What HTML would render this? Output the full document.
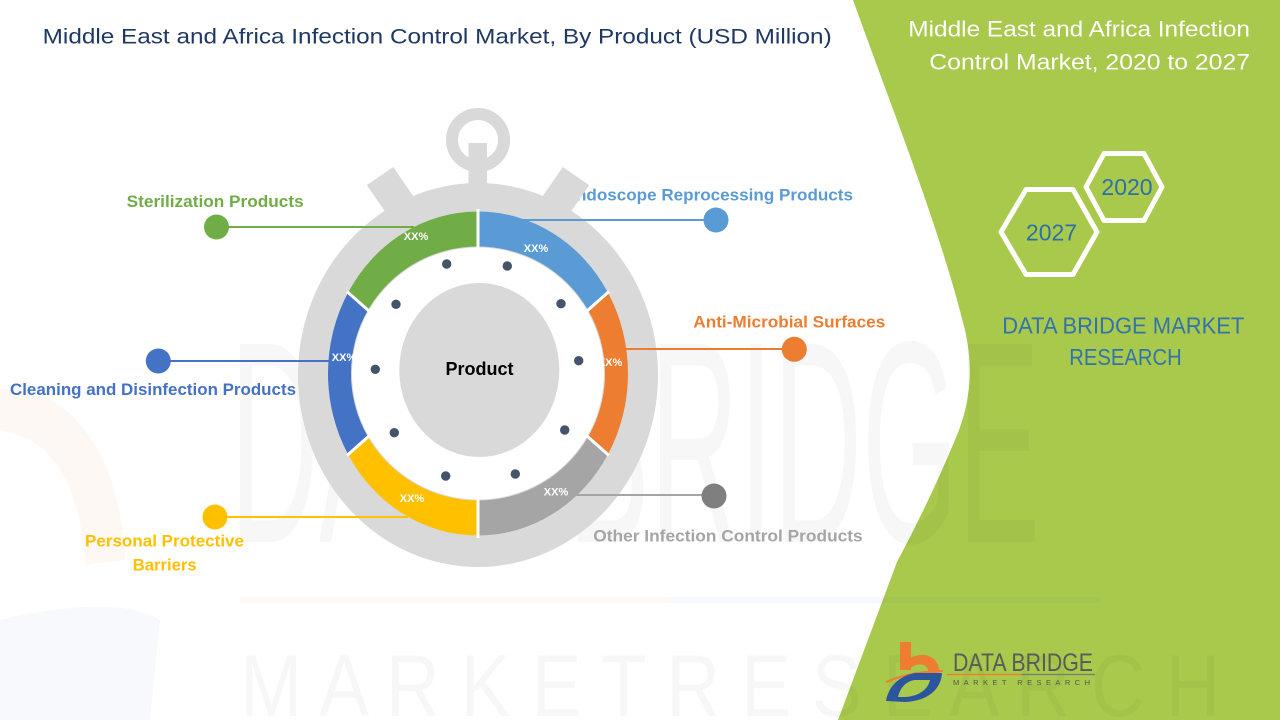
<!DOCTYPE html>
<html>
<head>
<meta charset="utf-8">
<style>
  html,body{margin:0;padding:0;background:#fff;}
  body{width:1280px;height:720px;overflow:hidden;}
  svg{display:block;overflow:hidden;}
  text{font-family:"Liberation Sans", Arial, sans-serif;}
</style>
</head>
<body>
<svg width="1280" height="720" viewBox="0 0 1280 720" xmlns="http://www.w3.org/2000/svg">
  <defs>
    <clipPath id="frame"><rect x="0" y="0" width="1280" height="720"/></clipPath>
  </defs>
  <g clip-path="url(#frame)">
  <rect x="0" y="0" width="1280" height="720" fill="#ffffff"/>

  <!-- faint watermark logo at left -->
  <path d="M -10 390 C 60 380, 120 440, 125 560 L 85 565 C 80 470, 40 430, -10 430 Z" fill="#ed7d31" opacity="0.05"/>
  <path d="M 0 620 C 60 605, 130 600, 160 620 L 150 720 L 0 720 Z" fill="#4472c4" opacity="0.04"/>

  <!-- green panel -->
  <path d="M 853 0 C 900 130, 940 230, 965 330 C 975 375, 968 410, 955 440 Q 930 500, 897 562 L 838 720 L 1280 720 L 1280 0 Z" fill="#a8c94c"/>

  <!-- faint watermark text -->
  <text x="230" y="542" font-size="288" textLength="810" lengthAdjust="spacingAndGlyphs" fill="#000" fill-opacity="0.03">DATA BRIDGE</text>
  <rect x="240" y="597" width="430" height="6" fill="#ed7d31" opacity="0.05"/>
  <rect x="670" y="597" width="430" height="6" fill="#4472c4" opacity="0.05"/>
  <text x="240" y="716" font-size="88" textLength="980" lengthAdjust="spacingAndGlyphs" fill="#000" fill-opacity="0.03">M A R K E T   R E S E A R C H</text>

  <!-- main title -->
  <text x="42.7" y="43.3" font-size="21" textLength="789" lengthAdjust="spacingAndGlyphs" fill="#1f3864">Middle East and Africa Infection Control Market, By Product (USD Million)</text>

  <!-- right titles -->
  <text x="908.3" y="36.7" font-size="22" textLength="341.7" lengthAdjust="spacingAndGlyphs" fill="#ffffff">Middle East and Africa Infection</text>
  <text x="929.3" y="69.3" font-size="22" textLength="320.7" lengthAdjust="spacingAndGlyphs" fill="#ffffff">Control Market, 2020 to 2027</text>

  <!-- hexagons -->
  <polygon points="1086,187 1104,153.5 1144,153.5 1162,187 1144,220.5 1104,220.5" fill="none" stroke="#ffffff" stroke-width="5" stroke-linejoin="round"/>
  <polygon points="1001,232 1026,189.5 1073,189.5 1097,232 1073,274.5 1026,274.5" fill="none" stroke="#ffffff" stroke-width="5" stroke-linejoin="round"/>
  <text x="1127" y="195" font-size="23" text-anchor="middle" fill="#2f6fa8">2020</text>
  <text x="1051.5" y="240.7" font-size="23" text-anchor="middle" fill="#2f6fa8">2027</text>

  <text x="1002.3" y="333.3" font-size="23" textLength="242" lengthAdjust="spacingAndGlyphs" fill="#3373ad">DATA BRIDGE MARKET</text>
  <text x="1069.3" y="365" font-size="23" textLength="112.4" lengthAdjust="spacingAndGlyphs" fill="#3373ad">RESEARCH</text>

  <!-- labels (behind stopwatch) -->
  <g font-weight="bold" font-size="17">
    <text x="126.7" y="207" textLength="177" lengthAdjust="spacingAndGlyphs" fill="#70ad47">Sterilization Products</text>
    <text x="10" y="395" textLength="286" lengthAdjust="spacingAndGlyphs" fill="#4472c4">Cleaning and Disinfection Products</text>
    <text x="564.6" y="200.7" textLength="288.4" lengthAdjust="spacingAndGlyphs" fill="#5b9bd5">Endoscope Reprocessing Products</text>
    <text x="693.3" y="327.3" textLength="192" lengthAdjust="spacingAndGlyphs" fill="#ed7d31">Anti-Microbial Surfaces</text>
    <text x="593.3" y="541.7" textLength="269.4" lengthAdjust="spacingAndGlyphs" fill="#a5a5a5">Other Infection Control Products</text>
    <text x="85" y="546.7" textLength="159" lengthAdjust="spacingAndGlyphs" fill="#ffc000">Personal Protective</text>
    <text x="132.7" y="570.7" textLength="64" lengthAdjust="spacingAndGlyphs" fill="#ffc000">Barriers</text>
  </g>

  <!-- stopwatch body -->
  <g fill="#d9d9d9">
    <circle cx="478" cy="140" r="26" fill="none" stroke="#d9d9d9" stroke-width="12"/>
    <rect x="468.5" y="143" width="18.5" height="50"/>
    <g transform="translate(380,176) rotate(-34.5)"><rect x="-16" y="0" width="32" height="55"/></g>
    <g transform="translate(576,176) rotate(34.5)"><rect x="-16" y="0" width="32" height="55"/></g>
    <ellipse cx="478" cy="375" rx="180" ry="192"/>
  </g>

  <!-- connector lines -->
  <g stroke-width="2">
    <line x1="216" y1="227" x2="414" y2="227" stroke="#70ad47"/>
    <line x1="158" y1="361" x2="331" y2="361" stroke="#4472c4"/>
    <line x1="517" y1="220" x2="716" y2="220" stroke="#5b9bd5"/>
    <line x1="623" y1="349" x2="794" y2="349" stroke="#ed7d31"/>
    <line x1="576" y1="495" x2="714" y2="495" stroke="#a5a5a5"/>
    <line x1="215" y1="517" x2="408" y2="517" stroke="#ffc000"/>
  </g>
  <circle cx="216.5" cy="227" r="12.5" fill="#70ad47"/>
  <circle cx="158.3" cy="361" r="12.5" fill="#4472c4"/>
  <circle cx="716" cy="220" r="12.5" fill="#5b9bd5"/>
  <circle cx="794.3" cy="349.3" r="12.5" fill="#ed7d31"/>
  <circle cx="714" cy="496" r="12.5" fill="#7f7f7f"/>
  <circle cx="215" cy="517" r="12.5" fill="#ffc000"/>

  <!-- ring segments -->
  <path d="M 348.1 292.5 A 150 162 0 0 1 478 211.5 L 478 246.5 A 127 127 0 0 0 368 310 Z" fill="#70ad47"/>
  <path d="M 478 211.5 A 150 162 0 0 1 607.9 292.5 L 588 310 A 127 127 0 0 0 478 246.5 Z" fill="#5b9bd5"/>
  <path d="M 607.9 292.5 A 150 162 0 0 1 607.9 454.5 L 588 437 A 127 127 0 0 0 588 310 Z" fill="#ed7d31"/>
  <path d="M 607.9 454.5 A 150 162 0 0 1 478 535.5 L 478 500.5 A 127 127 0 0 0 588 437 Z" fill="#a5a5a5"/>
  <path d="M 478 535.5 A 150 162 0 0 1 348.1 454.5 L 368 437 A 127 127 0 0 0 478 500.5 Z" fill="#ffc000"/>
  <path d="M 348.1 454.5 A 150 162 0 0 1 348.1 292.5 L 368 310 A 127 127 0 0 0 368 437 Z" fill="#4472c4"/>
  <g stroke="#ffffff" stroke-width="3">
    <line x1="478" y1="209" x2="478" y2="248"/>
    <line x1="609" y1="291.5" x2="587" y2="311"/>
    <line x1="609" y1="455.5" x2="587" y2="436"/>
    <line x1="478" y1="538" x2="478" y2="499"/>
    <line x1="347" y1="455.5" x2="369" y2="436"/>
    <line x1="347" y1="291.5" x2="369" y2="311"/>
  </g>
  <circle cx="478" cy="373.5" r="126" fill="#ffffff"/>

  <!-- percentages -->
  <g font-weight="bold" font-size="11" fill="#ffffff" text-anchor="middle">
    <text x="416" y="240">XX%</text>
    <text x="536" y="252">XX%</text>
    <text x="610" y="366">XX%</text>
    <text x="344" y="361">XX%</text>
    <text x="556" y="495.5">XX%</text>
    <text x="412" y="502">XX%</text>
  </g>

  <!-- dots -->
  <g fill="#44546a">
    <circle cx="446.7" cy="264" r="4.7"/>
    <circle cx="507.3" cy="266" r="4.7"/>
    <circle cx="396" cy="304.3" r="4.7"/>
    <circle cx="561" cy="303.7" r="4.7"/>
    <circle cx="375.3" cy="369.3" r="4.7"/>
    <circle cx="578.7" cy="360.7" r="4.7"/>
    <circle cx="394.3" cy="432.7" r="4.7"/>
    <circle cx="564.7" cy="430" r="4.7"/>
    <circle cx="445.7" cy="476" r="4.7"/>
    <circle cx="515.3" cy="474" r="4.7"/>
  </g>

  <!-- center -->
  <ellipse cx="479.3" cy="370" rx="80" ry="87" fill="#d9d9d9"/>
  <text x="479.5" y="375" font-size="18" font-weight="bold" text-anchor="middle" fill="#000000">Product</text>

  <!-- bottom-right logo -->
  <rect x="900" y="642" width="11" height="28" fill="#ef7d31"/>
  <path d="M 906 662 C 916 650, 942 652, 939 676 L 929 676 C 930 664, 918 660, 908 670 Z" fill="#ef7d31"/>
  <path d="M 886 682 C 905 674, 925 671, 943 671" fill="none" stroke="#ef7d31" stroke-width="2"/>
  <path d="M 886 701 C 888 688, 898 676, 915 673 L 942 673 C 941 690, 927 701, 905 702 Z" fill="#2c559e"/>
  <path d="M 898 697 C 900 688, 906 681, 915 680 L 930 680 C 928 690, 918 696, 906 697 Z" fill="#a8c94c"/>
  <text x="953" y="671" font-size="25" textLength="140" lengthAdjust="spacingAndGlyphs" fill="#5a5a5a">DATA BRIDGE</text>
  <line x1="947" y1="674.5" x2="1021" y2="674.5" stroke="#ef7d31" stroke-width="1.3"/>
  <line x1="1021" y1="674.5" x2="1095" y2="674.5" stroke="#7a7a7a" stroke-width="1.3"/>
  <text x="953" y="685" font-size="7.5" textLength="137" lengthAdjust="spacing" fill="#555555">MARKET RESEARCH</text>
  </g>
</svg>
</body>
</html>
